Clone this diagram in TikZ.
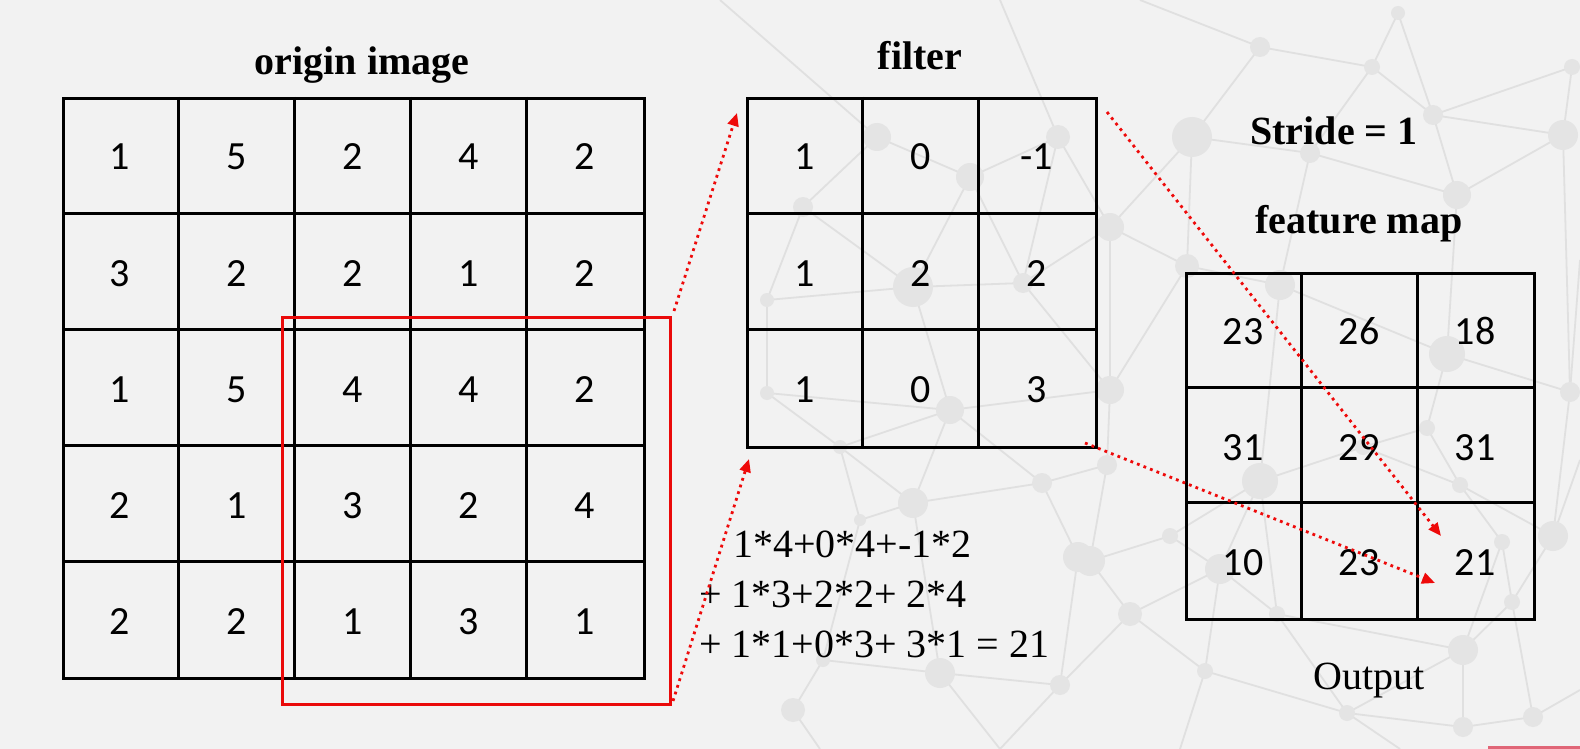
\documentclass[tikz,border=0pt]{standalone}
\usepackage{fontspec}
\setmainfont{Liberation Serif}
\newfontfamily\cellfont{Carlito}
\usetikzlibrary{arrows.meta}
\definecolor{bg}{HTML}{F2F2F2}
\definecolor{netline}{HTML}{E0E0E0}
\definecolor{netdot}{HTML}{E4E4E4}
\definecolor{arrred}{HTML}{EE0A0A}
\definecolor{boxred}{HTML}{EA0A0A}
\definecolor{barred}{HTML}{E06677}
\begin{document}
\begin{tikzpicture}[x=1pt,y=-1pt,
  gridline/.style={line width=3pt, draw=black},
  num/.style={anchor=base, inner sep=0pt, font=\cellfont\fontsize{40}{48}\selectfont},
  title/.style={anchor=base, inner sep=0pt, font=\bfseries\fontsize{40}{48}\selectfont},
  plaintitle/.style={anchor=base, inner sep=0pt, font=\fontsize{40}{48}\selectfont},
  eq/.style={anchor=base west, inner sep=0pt, font=\fontsize{40}{48}\selectfont},
  redarrow/.style={draw=arrred, line width=2.8pt, dash pattern=on 2.8pt off 4.2pt,
    -{Triangle[length=13pt,width=11pt]}},
  net/.style={draw=netline, line width=1.8pt},
]
\useasboundingbox (0,0) rectangle (1580,749);
\fill[bg] (0,0) rectangle (1580,749);

% ---------- background network ----------
\foreach \n/\x/\y in {A/877/137,B/970/177,C/1058/137,D/803/207,E/913/287,F/1023/283,
  G/950/410,H/1110/227,I/1110/390,J/767/300,K/767/393,L/840/447,M/913/503,N/1042/483,
  O/1078/557,P/940/673,Q/1060/685,R/860/520,S/1107/465,T/793/710,U/823/660,V/1192/137,
  W/1260/47,X/1372/67,Y/1398/13,Z/1433/115,AA/1563/135,AB/1572/67,AC/1310/153,AD/1457/195,
  AE/1187/266,AF/1280/285,AG/1447/354,AH/1570/392,AI/1260/481,AJ/1363/447,AK/1460/485,
  AL/1553/536,AM/1512/602,AN/1170/536,AO/1130/614,AP/1277/614,AQ/1463/650,AR/1205/671,
  AS/1347/713,AT/1090/561,AU/1220/569,AV/1427/428,AW/1502/542,BA/1463/727,BB/1533/717,
  EA/1140/0,EB/1000/0,EC/1580/260,ED/1580/460,EE/1580/690,EF/1400/749,EG/1180/749,
  EH/1000/749,EI/820/749,EJ/720/0}
  \coordinate (n\n) at (\x,\y);
\foreach \a/\b in {A/B,A/D,B/C,B/E,B/F,C/H,C/F,C/EB,A/EJ,D/E,D/J,E/F,E/G,E/J,F/H,F/I,
  G/I,G/K,G/L,G/M,H/V,H/I,H/AE,I/S,I/AE,J/K,K/L,L/M,L/R,M/R,M/N,N/O,N/S,N/G,O/AT,O/Q,
  M/P,P/Q,P/U,U/T,R/U,S/AT,V/W,V/AC,V/AE,W/X,W/EA,X/Y,X/Z,X/AC,Y/Z,Z/AA,Z/AB,Z/AD,
  AA/AB,AA/AD,AC/AD,AC/AF,AD/AG,AA/AH,AE/AF,AF/AG,AF/AI,AG/AV,AG/AH,AV/AJ,AV/AK,AJ/AI,
  AJ/AK,AK/AL,AK/AW,AL/AH,AL/AM,AM/AQ,AW/AQ,AW/AM,AI/AN,AI/AU,AN/AT,AN/AU,AU/AO,AO/AT,
  AU/AP,AP/AQ,AP/AS,AR/AS,AR/AO,AU/AR,AS/AQ,Q/AO,AI/AP,AH/EC,AL/ED,AQ/BA,BA/BB,BB/EE,
  AS/EF,AR/EG,Q/EH,T/EI,P/EH,AS/BA,AM/BB}
  \draw[net] (n\a) -- (n\b);
\foreach \n/\r in {A/14,B/14,C/12,D/10,E/20,F/10,G/14,H/14,I/14,J/7,K/7,L/7,M/15,N/10,
  O/15,P/15,Q/10,R/6,S/10,T/12,U/7,V/20,W/10,X/8,Y/7,Z/10,AA/15,AB/8,AC/10,AD/14,AE/12,
  AF/15,AG/18,AH/10,AI/18,AJ/8,AK/8,AL/15,AM/8,AN/8,AO/12,AP/8,AQ/15,AR/8,AS/8,AT/15,
  AU/15,AV/8,AW/8,BA/10,BB/10}
  \fill[netdot] (n\n) circle (\r);
\fill[barred] (1488,746) rectangle (1580,749);

% ---------- origin image ----------
\node[title] (torig) at (362,75) {origin image};
\node[gridline, inner sep=0pt, minimum width=581pt, minimum height=580pt, anchor=north west] (orig) at (62,97) {};
\foreach \i in {1,...,4} {
  \draw[gridline] ({62+116.2*\i},97) -- ({62+116.2*\i},677);
  \draw[gridline] (62,{97+116*\i}) -- (643,{97+116*\i});
}
\foreach \row/\vals in {0/{1,5,2,4,2},1/{3,2,2,1,2},2/{1,5,4,4,2},3/{2,1,3,2,4},4/{2,2,1,3,1}} {
  \foreach \v [count=\c from 0] in \vals
    \node[num] (o-\row-\c) at ({62+116.2*\c+58.1},{97+116*\row+58+15}) {\v};
}
\node[draw=boxred, line width=2.7pt, inner sep=0pt, minimum width=388pt, minimum height=387pt, anchor=north west] (win) at (281,316) {};

% ---------- filter ----------
\node[title] (tfilt) at (920,70) {filter};
\node[gridline, inner sep=0pt, minimum width=349pt, minimum height=349pt, anchor=north west] (filt) at (746,97) {};
\foreach \i in {1,2} {
  \draw[gridline] ({746+116.33*\i},97) -- ({746+116.33*\i},446);
  \draw[gridline] (746,{97+116.33*\i}) -- (1095,{97+116.33*\i});
}
\foreach \row/\vals in {0/{1,0,-1},1/{1,2,2},2/{1,0,3}} {
  \foreach \v [count=\c from 0] in \vals
    \node[num] (f-\row-\c) at ({746+116.33*\c+58.2},{97+116.33*\row+58+15}) {\v};
}

% ---------- feature map ----------
\node[title] (tstride) at (1334,145) {Stride = 1};
\node[title] (tfeat) at (1359,233) {feature map};
\node[gridline, inner sep=0pt, minimum width=348pt, minimum height=346pt, anchor=north west] (feat) at (1185,272) {};
\foreach \i in {1,2} {
  \draw[gridline] ({1185+116*\i},272) -- ({1185+116*\i},618);
  \draw[gridline] (1185,{272+115.33*\i}) -- (1533,{272+115.33*\i});
}
\foreach \row/\vals in {0/{23,26,18},1/{31,29,31},2/{10,23,21}} {
  \foreach \v [count=\c from 0] in \vals
    \node[num] (m-\row-\c) at ({1185+116*\c+58},{272+115.33*\row+57.7+15}) {\v};
}
\node[plaintitle] (tout) at (1369,689) {Output};

% ---------- equation ----------
\node[eq] (eq1) at (733,557) {1*4+0*4+-1*2};
\node[eq] (eq2) at (699,607) {+ 1*3+2*2+ 2*4};
\node[eq] (eq3) at (699,657) {+ 1*1+0*3+ 3*1 = 21};

% ---------- arrows ----------
\coordinate (a1s) at (674,311);
\coordinate (a1e) at (737,113);
\coordinate (a2s) at (673,701);
\coordinate (a2e) at (749,459);
\coordinate (a3s) at (1107,112);
\coordinate (a3e) at (1441,536);
\coordinate (a4s) at (1085,443);
\coordinate (a4e) at (1435,583);
\draw[redarrow] (a1s) -- (a1e);
\draw[redarrow] (a2s) -- (a2e);
\draw[redarrow] (a3s) -- (a3e);
\draw[redarrow] (a4s) -- (a4e);
\end{tikzpicture}
\end{document}
